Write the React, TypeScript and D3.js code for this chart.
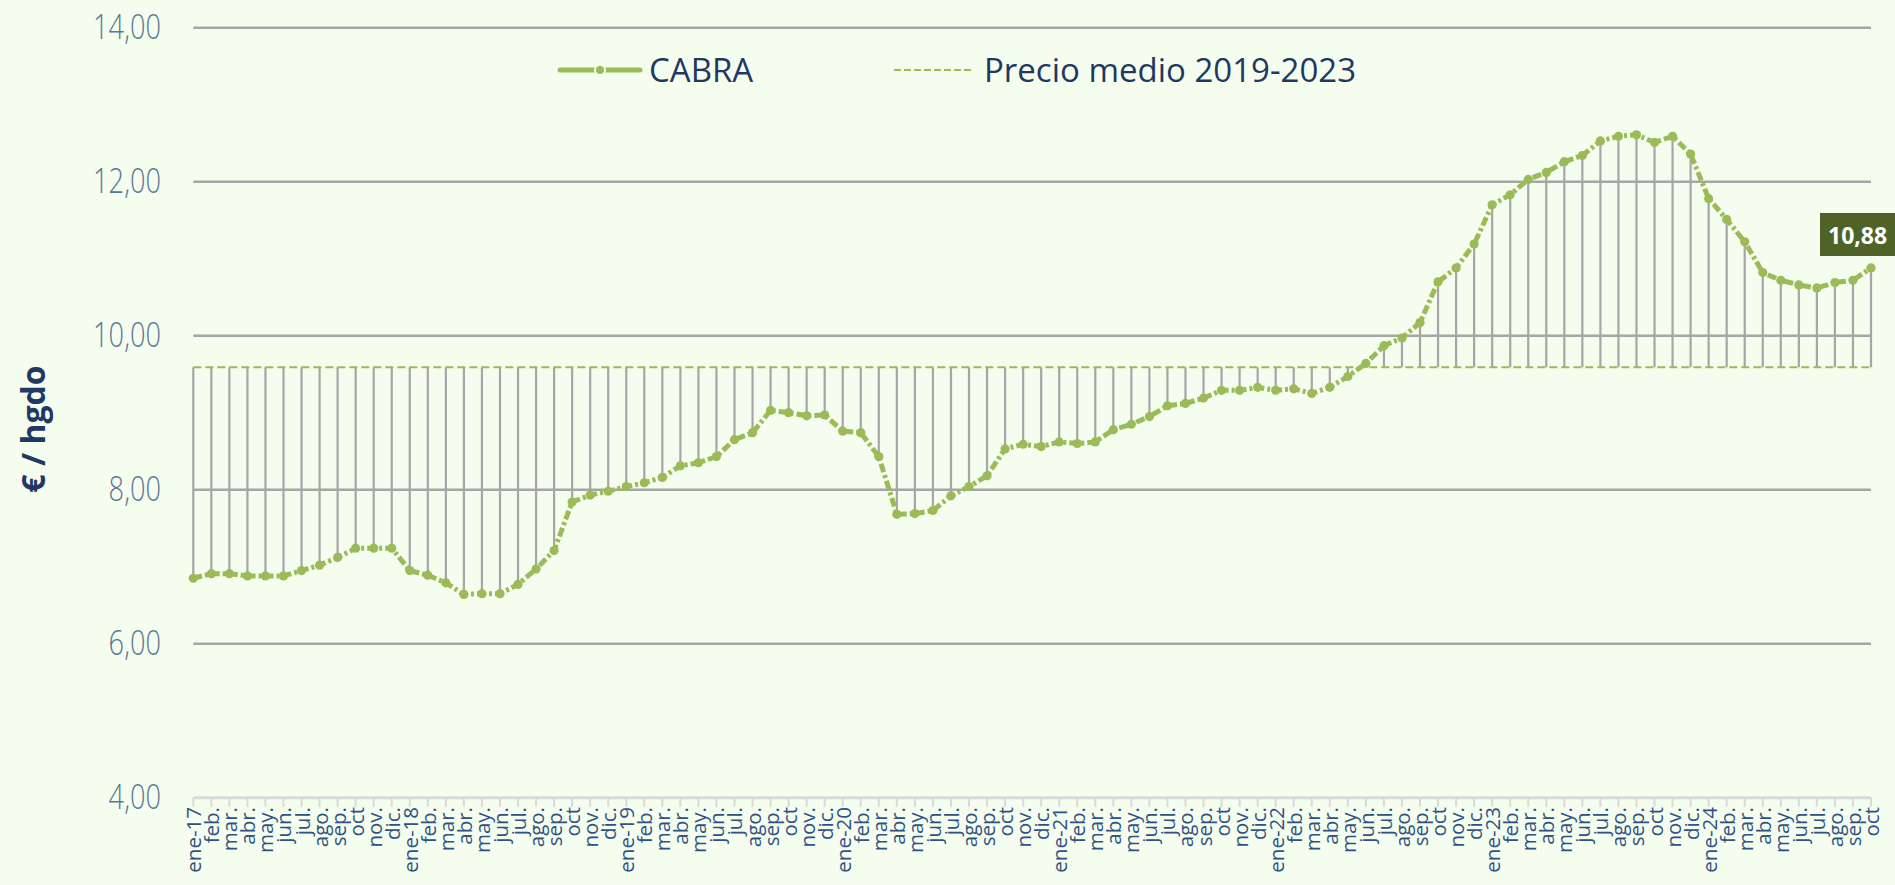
import React from "react";
import * as d3 from "d3";

const monthNames = ["ene", "feb.", "mar.", "abr.", "may.", "jun.", "jul.", "ago.", "sep.", "oct", "nov.", "dic."];
const years = ["17", "18", "19", "20", "21", "22", "23", "24"];

const cabra2017 = [6.85, 6.91, 6.91, 6.88, 6.88, 6.88, 6.95, 7.02, 7.12, 7.24, 7.24, 7.24];
const cabra2018 = [6.95, 6.89, 6.79, 6.64, 6.65, 6.65, 6.77, 6.97, 7.21, 7.84, 7.93, 7.98];
const cabra2019 = [8.04, 8.09, 8.16, 8.31, 8.35, 8.43, 8.65, 8.74, 9.03, 9.0, 8.96, 8.97];
const cabra2020 = [8.76, 8.74, 8.43, 7.68, 7.69, 7.73, 7.92, 8.04, 8.18, 8.53, 8.59, 8.56];
const cabra2021 = [8.62, 8.6, 8.62, 8.78, 8.85, 8.95, 9.09, 9.12, 9.19, 9.29, 9.29, 9.33];
const cabra2022 = [9.29, 9.31, 9.25, 9.33, 9.47, 9.64, 9.87, 9.97, 10.17, 10.7, 10.88, 11.19];
const cabra2023 = [11.7, 11.83, 12.03, 12.12, 12.26, 12.34, 12.53, 12.59, 12.61, 12.51, 12.59, 12.36];
const cabra2024 = [11.78, 11.51, 11.22, 10.82, 10.72, 10.66, 10.62, 10.69, 10.72, 10.88];

const precioMedio = 9.59;
const yTicks = [4, 6, 8, 10, 12, 14];

const cabra = [
  ...cabra2017, ...cabra2018, ...cabra2019, ...cabra2020,
  ...cabra2021, ...cabra2022, ...cabra2023, ...cabra2024,
];
const labels = cabra.map((_, i) => {
  const m = i % 12;
  const y = Math.floor(i / 12);
  return m === 0 ? `${monthNames[0]}-${years[y]}` : monthNames[m];
});

const W = 1895;
const H = 885;
const BG = "#f5fdee";
const GREEN = "#9bbb59";
const GRID = "#a6a6a6";
const NAVY = "#1f3864";
const TICKCOL = "#5b7796";
const XLABCOL = "#2f5285";

export default function App() {
  const x = d3.scaleLinear().domain([0, cabra.length - 1]).range([193.3, 1871]);
  const y = d3.scaleLinear().domain([4, 14]).range([797.7, 27.7]);
  const line = d3.line<number>().x((_, i) => x(i)).y((d) => y(d));
  const fmt = (v: number) => v.toFixed(2).replace(".", ",");
  const last = cabra.length - 1;

  return (
    <div style={{ position: "fixed", left: 0, top: 0, width: W, height: H, background: BG }}>
      <svg width={W} height={H} style={{ display: "block" }}>
        <rect x={0} y={0} width={W} height={H} fill={BG} />
        {/* gridlines */}
        {yTicks.filter((t) => t > 4).map((t) => (
          <line key={t} x1={x(0)} x2={x(last)} y1={y(t)} y2={y(t)} stroke={GRID} strokeWidth={2.5} />
        ))}
        {/* y tick labels */}
        {yTicks.map((t) => (
          <text
            key={"l" + t}
            transform={`translate(161, ${y(t) + 11}) scale(0.8, 1)`}
            textAnchor="end"
            fontFamily="'Open Sans', sans-serif"
            fontWeight={300}
            fontSize={34}
            fill={TICKCOL}
          >
            {fmt(t)}
          </text>
        ))}
        {/* x axis */}
        <line x1={x(0)} x2={x(last)} y1={y(4)} y2={y(4)} stroke="#d9d9d9" strokeWidth={3} />
        {cabra.map((_, i) => (
          <line key={"t" + i} x1={x(i)} x2={x(i)} y1={y(4)} y2={y(4) + 9} stroke="#d9d9d9" strokeWidth={2} />
        ))}
        {labels.map((lab, i) => (
          <text
            key={"x" + i}
            transform={`translate(${x(i) + 8}, 807) rotate(-90)`}
            textAnchor="end"
            fontFamily="'Open Sans', sans-serif"
            fontSize={20.5}
            fill={XLABCOL}
          >
            {lab}
          </text>
        ))}
        {/* drop lines */}
        {cabra.map((v, i) => (
          <line key={"d" + i} x1={x(i)} x2={x(i)} y1={y(precioMedio)} y2={y(v)} stroke={GRID} strokeWidth={2.2} />
        ))}
        {/* mean line */}
        <line x1={x(0)} x2={x(last)} y1={y(precioMedio)} y2={y(precioMedio)} stroke={GREEN} strokeWidth={2.2} strokeDasharray="8 4" />
        {/* series */}
        <path d={line(cabra) || ""} fill="none" stroke={GREEN} strokeWidth={5} strokeDasharray="9 3 3 3" />
        {cabra.map((v, i) => (
          <circle key={"c" + i} cx={x(i)} cy={y(v)} r={4.6} fill={GREEN} />
        ))}
        {/* last value label */}
        <rect x={1820} y={213} width={90} height={43} fill="#4f6228" />
        <text x={1828} y={244} fontFamily="'Open Sans', sans-serif" fontWeight={700} fontSize={23} fill="#ffffff">
          {fmt(cabra[last])}
        </text>
        {/* y title */}
        <text
          transform="translate(45, 429) rotate(-90)"
          textAnchor="middle"
          fontFamily="'Open Sans', sans-serif"
          fontWeight={700}
          fontSize={32}
          fill={NAVY}
        >
          € / hgdo
        </text>
        {/* legend */}
        <line x1={560} x2={640} y1={70} y2={70} stroke={GREEN} strokeWidth={5} strokeLinecap="round" />
        <circle cx={600} cy={70} r={5} fill={GREEN} stroke={BG} strokeWidth={2} />
        <text x={649} y={82} fontFamily="'Open Sans', sans-serif" fontSize={33} fill={NAVY}>CABRA</text>
        <line x1={894} x2={973} y1={70} y2={70} stroke={GREEN} strokeWidth={2} strokeDasharray="7 3" />
        <text x={984} y={82} fontFamily="'Open Sans', sans-serif" fontSize={33} fill={NAVY}>Precio medio 2019-2023</text>
      </svg>
    </div>
  );
}
